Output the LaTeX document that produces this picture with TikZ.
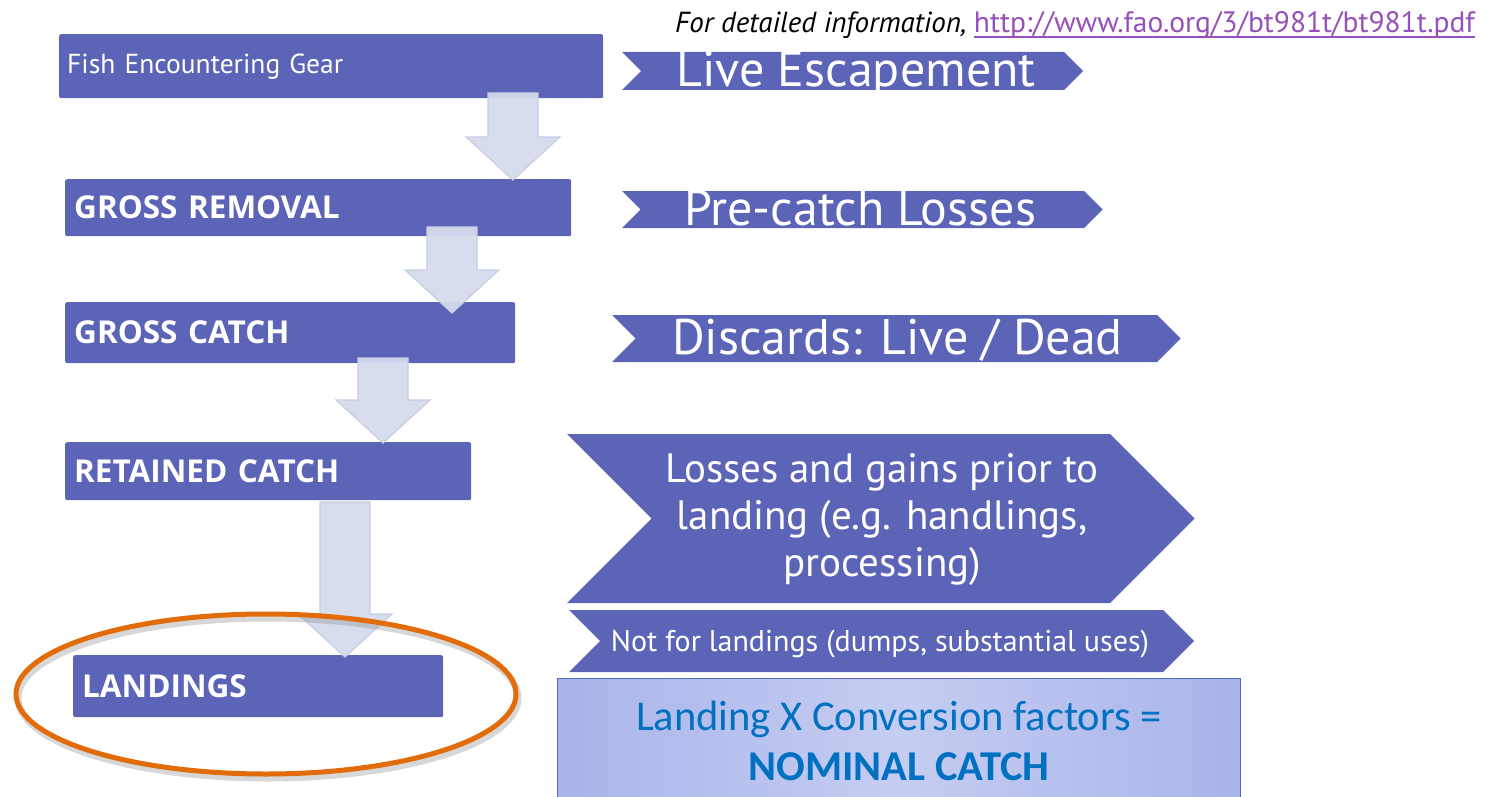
\documentclass[tikz,border=0pt]{standalone}
\usepackage{fontspec}
\setmainfont{PT Sans}
\newfontfamily\capsfont{Open Sans}
\newfontfamily\panelfont{Carlito}
\usetikzlibrary{calc}

\definecolor{boxblue}{RGB}{92,100,183}
\definecolor{arrfill}{RGB}{213,219,236}
\definecolor{arrline}{RGB}{198,206,229}
\definecolor{ringorange}{RGB}{227,108,10}
\definecolor{linkpurple}{RGB}{150,80,186}
\definecolor{calloutblue}{RGB}{0,112,192}
\definecolor{panelmid}{RGB}{198,205,242}
\definecolor{panelside}{RGB}{168,180,234}
\definecolor{panelborder}{RGB}{84,104,192}

\tikzset{
  stage/.style={fill=boxblue, rounded corners=2pt, anchor=north west,
    inner xsep=8pt, inner ysep=0pt, align=left, text=white},
  plainlab/.style={font=\fontsize{27.5}{30}\selectfont},
  capslab/.style={font=\capsfont\bfseries\fontsize{31.5}{34}\selectfont},
  chevfill/.style={fill=boxblue, draw=none},
  chevtext/.style={text=white, inner sep=0pt},
  blockarr/.style={fill=arrfill, draw=arrline, line width=1.2pt, fill opacity=0.95},
}

% chevron band: #1 left x, #2 body right x, #3 top y, #4 bottom y
\newcommand\chevron[4]{%
  \path[chevfill] let \n1={(#4-#3)/2}, \n2={(#4+#3)/2} in
    (#1,#3) -- (#2,#3) -- (#2+\n1,\n2) -- (#2,#4) -- (#1,#4) -- (#1+\n1,\n2) -- cycle;}

% block arrow from a named top point to a named tip point
\newcommand\blockarrow[2]{%
  \path[blockarr] let \p1=(#1), \p2=(#2) in
    (\x1-25pt,\y1) -- (\x1+25pt,\y1) -- (\x1+25pt,\y2+43pt) -- (\x1+47pt,\y2+43pt)
    -- (\x2,\y2) -- (\x1-47pt,\y2+43pt) -- (\x1-25pt,\y2+43pt) -- cycle;}

\begin{document}
\begin{tikzpicture}[x=1pt,y=-1pt]
\useasboundingbox (0,0) rectangle (1497,797);

% reference note
\node[anchor=base east, inner sep=0pt, font=\fontsize{29.5}{32}\selectfont, text=linkpurple] (link) at (1475,33) {http://www.fao.org/3/bt981t/bt981t.pdf};
\node[anchor=base east, inner sep=0pt, font=\itshape\fontsize{29}{32}\selectfont] (note) at ([xshift=-7pt]link.base west) {For detailed information,};
\draw[linkpurple, line width=1.3pt] ([yshift=-4pt]link.base west) -- ([yshift=-4pt]link.base east);

% stage boxes
\node[stage, plainlab, text width=528pt, minimum height=64pt] (b1) at (59,34) {Fish Encountering Gear};
\node[stage, capslab, inner xsep=9pt, text width=488pt, minimum height=57pt] (b2) at (65,179) {GROSS REMOVAL};
\node[stage, capslab, inner xsep=9pt, text width=432pt, minimum height=61pt] (b3) at (65,302) {GROSS CATCH};
\node[stage, capslab, inner xsep=9pt, text width=388pt, minimum height=58pt] (b4) at (65,442) {RETAINED CATCH};
\node[stage, capslab, inner xsep=9pt, text width=352pt, minimum height=62pt] (b5) at (73,655) {LANDINGS};

% side bands
\chevron{622}{1064}{52}{90}
\node[chevtext, anchor=base west, font=\fontsize{50}{54}\selectfont] (c1) at (676,87) {Live Escapement};
\chevron{622}{1084}{191}{228}
\node[chevtext, anchor=base west, font=\fontsize{50}{54}\selectfont] (c2) at (684,225) {Pre-catch Losses};
\chevron{612}{1157}{315}{362}
\node[chevtext, anchor=base west, font=\fontsize{50}{54}\selectfont] (c3) at (672,354) {Discards: Live / Dead};
\chevron{567}{1110}{434}{603}
\node[chevtext, align=center, font=\fontsize{41}{47}\selectfont] (c4) at (882,519) {Losses and gains prior to\\landing (e.g. handlings,\\processing)};
\chevron{569}{1163}{610}{672}
\node[chevtext, anchor=base, font=\fontsize{30}{32}\selectfont] (c5) at (880,651) {Not for landings (dumps, substantial uses)};

% result panel
\node[anchor=north west, minimum width=683pt, minimum height=125pt, inner sep=0pt,
      left color=panelside, right color=panelside, middle color=panelmid,
      draw=panelborder, line width=1pt, align=center, text=calloutblue,
      font=\panelfont\fontsize{42.5}{50}\selectfont] (nc) at (557,678)
      {Landing X Conversion factors =\\\textbf{NOMINAL CATCH}};

% flow arrows between stages
\coordinate (a1s) at (513,93);  \coordinate (a1e) at (513,180);
\coordinate (a2s) at (452,227); \coordinate (a2e) at (452,313);
\coordinate (a3s) at (383,358); \coordinate (a3e) at (383,443);
\coordinate (a4s) at (345,502); \coordinate (a4e) at (345,657);
\blockarrow{a1s}{a1e}
\blockarrow{a2s}{a2e}
\blockarrow{a3s}{a3e}
\blockarrow{a4s}{a4e}

% highlight ring round the landings
\draw[black!45, opacity=0.35, line width=7pt] (268,698) ellipse [x radius=250, y radius=80];
\draw[ringorange, line width=5pt] (266,694) ellipse [x radius=250, y radius=80];
\end{tikzpicture}
\end{document}
